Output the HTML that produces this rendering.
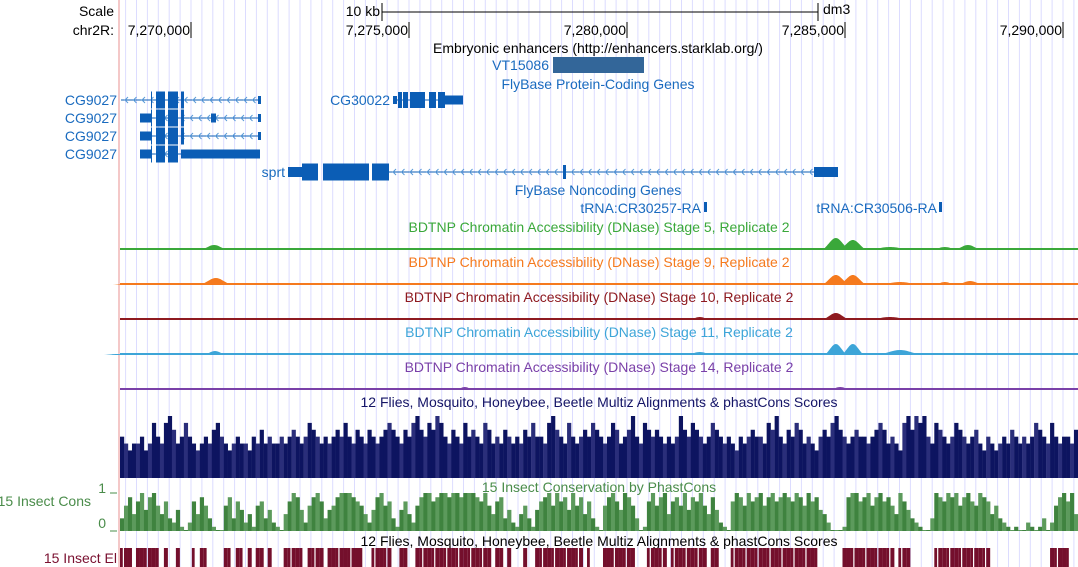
<!DOCTYPE html>
<html><head><meta charset="utf-8"><style>
html,body{margin:0;padding:0;background:#fff;}
svg{display:block;font-family:"Liberation Sans",sans-serif;}
</style></head><body>
<svg id="c" width="1078" height="567" viewBox="0 0 1078 567">
<g id="grid"></g>
<line x1="119" y1="0" x2="119" y2="567" stroke="#f4c8c8" stroke-width="2"/>
<g font-size="14" fill="#000">
<text x="114" y="16" text-anchor="end">Scale</text>
<text x="380" y="16" text-anchor="end">10 kb</text>
<line x1="382" y1="12" x2="818" y2="12" stroke="#000"/>
<line x1="382" y1="3" x2="382" y2="21" stroke="#000"/>
<line x1="818" y1="3" x2="818" y2="21" stroke="#000"/>
<text x="823" y="14">dm3</text>
<text x="114" y="35" text-anchor="end">chr2R:</text>
<g id="ticks"></g>
<text x="598" y="53" text-anchor="middle">Embryonic enhancers (http://enhancers.starklab.org/)</text>
</g>
<g font-size="14" fill="#1a6bbf">
<text x="549" y="70" text-anchor="end">VT15086</text>
<rect x="553" y="57" width="91" height="16" fill="#336699"/>
<text x="598" y="89" text-anchor="middle">FlyBase Protein-Coding Genes</text>
<text x="117" y="105" text-anchor="end">CG9027</text>
<text x="117" y="123" text-anchor="end">CG9027</text>
<text x="117" y="141" text-anchor="end">CG9027</text>
<text x="117" y="159" text-anchor="end">CG9027</text>
<text x="390" y="105" text-anchor="end">CG30022</text>
<text x="285" y="177" text-anchor="end">sprt</text>
<text x="598" y="195" text-anchor="middle">FlyBase Noncoding Genes</text>
<text x="701" y="213" text-anchor="end">tRNA:CR30257-RA</text>
<text x="937" y="213" text-anchor="end">tRNA:CR30506-RA</text>
</g>
<g id="genes" fill="#0b5db5" stroke="none"></g>
<g font-size="14" text-anchor="middle">
<text x="599" y="232" fill="#3aa83a">BDTNP Chromatin Accessibility (DNase) Stage 5, Replicate 2</text>
<text x="599" y="267" fill="#f57a1e">BDTNP Chromatin Accessibility (DNase) Stage 9, Replicate 2</text>
<text x="599" y="302" fill="#8e1a20">BDTNP Chromatin Accessibility (DNase) Stage 10, Replicate 2</text>
<text x="599" y="337" fill="#3da5d8">BDTNP Chromatin Accessibility (DNase) Stage 11, Replicate 2</text>
<text x="599" y="372" fill="#7a40a8">BDTNP Chromatin Accessibility (DNase) Stage 14, Replicate 2</text>
<text x="599" y="407" fill="#141466">12 Flies, Mosquito, Honeybee, Beetle Multiz Alignments &amp; phastCons Scores</text>
<text x="599" y="492" fill="#4a8c4a">15 Insect Conservation by PhastCons</text>
<text x="599" y="546" fill="#000">12 Flies, Mosquito, Honeybee, Beetle Multiz Alignments &amp; phastCons Scores</text>
</g>
<g font-size="14" fill="#4a8c4a">
<text x="91" y="506" text-anchor="end">15 Insect Cons</text>
<text x="106" y="493" text-anchor="end">1</text>
<text x="106" y="528" text-anchor="end">0</text>
<line x1="110" y1="493" x2="117" y2="493" stroke="#4a8c4a"/>
<line x1="110" y1="531" x2="117" y2="531" stroke="#4a8c4a"/>
</g>
<text x="117" y="563" font-size="14" fill="#7a1030" text-anchor="end">15 Insect El</text>
<g id="tracks"></g>
</svg>
<script>
const tickLabels = ["7,270,000","7,275,000","7,280,000","7,285,000","7,290,000"];
const tickPositions = [7270000,7275000,7280000,7285000,7290000];
// DNase peaks: centre (kb from 7,270,000), height (px), half width (kb)
const s5Centers=[-0.7,0.53,4.2,8.5,11.2,14.79,15.18,16.03,17.29,17.82];
const s5Heights=[1,5,1,1,2,12,10,3,3,5];
const s5Widths=[0.15,0.3,0.15,0.15,0.3,0.3,0.3,0.5,0.3,0.3];
const s9Centers=[-1.5,-0.44,0.57,1.0,10.6,14.79,15.18,16.26,17.29,17.87];
const s9Heights=[1,2,7,2,2,10,10,3,3,4];
const s9Widths=[0.3,0.3,0.35,0.15,0.3,0.3,0.3,0.5,0.25,0.3];
const s10Centers=[-1.12,0.3,4.3,6.4,10.34,11.67,14.79,16.03,17.29,17.9];
const s10Heights=[2,1,2,1,2,3,7,3,2,2];
const s10Widths=[0.15,0.15,0.3,0.15,0.15,0.25,0.3,0.5,0.2,0.2];
const s11Centers=[-1.7,0.55,5.8,10.4,11.67,14.79,15.18,16.26,17.41,18.2];
const s11Heights=[1,4,2,2,3,11,11,5,2,2];
const s11Widths=[0.3,0.25,0.3,0.15,0.3,0.25,0.25,0.5,0.3,0.25];
const s14Centers=[0.3,2.2,6.28,7.43,10.4,11.67,14.89,15.34,17.64];
const s14Heights=[1,1,3,2,1,2,3,2,2];
const s14Widths=[0.15,0.2,0.2,0.3,0.15,0.25,0.25,0.35,0.2];
// Multiz scores per bin (0-9), 240 bins across the view
const multizValues=[6,5,4,5,5,6,4,5,8,6,5,8,9,7,5,6,8,6,5,4,5,6,5,7,8,6,5,4,5,6,5,5,4,6,5,7,5,6,5,5,6,5,6,7,6,5,6,8,7,6,5,6,5,6,7,6,8,6,5,7,6,5,7,6,5,6,7,8,7,6,5,7,6,8,9,7,6,8,7,9,8,6,5,7,6,5,8,6,7,6,5,8,7,5,6,5,7,6,5,6,5,7,6,8,6,6,5,8,9,7,6,5,8,6,5,6,7,6,8,7,6,5,6,8,7,5,6,7,9,6,5,8,7,6,7,6,5,6,5,6,9,7,6,8,7,6,5,6,8,7,6,5,6,5,4,6,5,6,7,6,6,5,8,7,9,6,5,7,6,8,7,5,6,5,4,6,7,6,8,9,7,6,5,6,7,6,6,5,6,7,8,7,5,6,5,4,8,9,7,9,8,9,6,5,8,7,6,5,6,8,7,6,5,6,7,5,4,6,5,4,5,6,5,7,6,5,6,5,6,8,7,6,5,8,6,5,6,6,5,7];
// PhastCons per bin (0-9)
const consValues=[3,6,8,4,7,9,5,8,9,6,4,7,3,2,5,1,0,2,7,4,8,6,3,1,0,0,6,8,3,7,5,2,4,1,6,7,3,5,2,1,0,4,7,9,8,5,2,6,8,9,7,3,5,6,8,9,9,9,8,7,6,4,2,5,8,9,6,7,3,1,5,7,4,2,6,8,9,9,7,8,9,9,8,9,9,8,9,9,9,8,7,9,6,4,7,8,3,5,2,1,4,6,3,1,5,7,8,9,6,9,7,8,5,9,6,8,4,7,3,1,0,6,8,9,7,5,9,8,6,3,0,1,7,9,6,8,9,4,7,8,6,9,5,8,7,9,6,4,8,5,2,1,0,7,9,8,6,9,7,8,9,6,8,9,7,8,9,8,7,9,8,6,9,7,8,5,4,2,0,0,0,1,8,9,9,7,8,9,6,8,9,7,8,6,4,9,7,5,3,2,1,0,0,3,9,8,7,9,8,9,6,8,9,7,6,9,8,7,4,6,3,2,1,0,1,0,0,2,1,0,1,3,0,2,6,8,9,7,9,4];
// Conserved elements presence per bin (0/1)
const elemValues=[1,1,1,0,1,1,1,1,1,1,0,1,0,0,1,0,0,0,1,0,1,1,0,0,0,0,1,1,0,1,1,0,1,0,1,1,0,1,0,0,0,1,1,1,1,1,0,1,1,1,1,0,1,1,1,1,1,1,1,1,1,0,0,1,1,1,1,1,0,0,1,1,0,0,1,1,1,1,1,1,1,1,1,1,1,1,1,1,1,1,1,1,1,0,1,1,0,1,0,0,0,1,0,0,1,1,1,1,1,1,1,1,1,1,1,1,0,1,0,0,0,1,1,1,1,1,1,1,1,0,0,0,1,1,1,1,1,0,1,1,1,1,1,1,1,1,1,0,1,1,0,0,0,1,1,1,1,1,1,1,1,1,1,1,1,1,1,1,1,1,1,1,1,1,1,0,0,0,0,0,0,1,1,1,1,1,1,1,1,1,1,1,1,1,0,1,1,1,0,0,0,0,0,0,1,1,1,1,1,1,1,1,1,1,1,1,1,1,0,0,0,0,0,0,0,0,0,0,0,0,0,0,0,1,1,1,1,1,0];

const NS="http://www.w3.org/2000/svg";
const X0=119, X1=1077;
function xPos(p){return 191+(p-7270000)*0.0436;}
function xKb(kb){return xPos(7270000+kb*1000);}
function el(tag,attrs,parent){const e=document.createElementNS(NS,tag);for(const k in attrs)e.setAttribute(k,attrs[k]);parent.appendChild(e);return e;}

const grid=document.getElementById('grid');
for(let p=7268250;xPos(p)<=X1;p+=250){const x=xPos(p);if(x<X0)continue;
  const l=el('line',{x1:x,y1:0,x2:x,y2:567,stroke:'#dcdcff','stroke-width':1},grid);
  
  }

const ticks=document.getElementById('ticks');
tickPositions.forEach((p,i)=>{const x=xPos(p);
  const t=el('text',{x:x-1,y:35,'text-anchor':'end'},ticks);t.textContent=tickLabels[i];
  
  
  el('line',{x1:x,y1:22,x2:x,y2:38,stroke:'#000'},ticks);});

// genes
const g=document.getElementById('genes');
function line(x1,x2,y){el('line',{x1:x1,y1:y,x2:x2,y2:y,stroke:'#0b5db5','stroke-width':1},g);
  for(let x=x1+4;x<x2-3;x+=8.5){el('polyline',{points:`${x+3},${y-3} ${x},${y} ${x+3},${y+3}`,fill:'none',stroke:'#5a9ad8','stroke-width':1},g);}}
function box(x1,x2,y,h){el('rect',{x:x1,y:y-h/2,width:x2-x1,height:h},g);}
line(121,261,100);box(156,165,100,17);box(168,178,100,17);box(181,184,100,17);box(258,261,100,8);box(151,152,100,17);
line(152,261,118);box(140,152,118,9);box(156,165,118,17);box(168,178,118,17);box(181,184,118,17);box(211,216,118,9);box(258,261,118,8);box(151,152,118,17);
line(152,261,136);box(140,152,136,9);box(156,165,136,17);box(168,178,136,17);box(181,184,136,17);box(258,261,136,8);box(151,152,136,17);
line(152,184,154);box(140,152,154,9);box(156,165,154,17);box(168,178,154,17);box(181,260,154,9);box(151,152,154,17);
[[393,397,8],[398,402,16],[403,408,16],[410,425,16],[429,436,16],[438,445,16],[445,463,9]].forEach(b=>box(b[0],b[1],100,b[2]));
el('line',{x1:393,y1:100,x2:463,y2:100,stroke:'#0b5db5'},g);
line(389,815,172);box(288,302,172,10);box(302,318,172,17);box(323,369,172,17);box(372,389,172,17);box(563,566,172,14);box(814,838,172,10);
box(704,707,207,10);box(939,942,207,10);

// tracks
const tracks=document.getElementById('tracks');
function dnase(name,centers,heights,widths,base,color){
  const grp=el('g',{},tracks);
  
  
  el('rect',{x:X0+1,y:base-2,width:X1-X0,height:2,fill:color},grp);
  centers.forEach((c,i)=>{const xc=xKb(c),hw=widths[i]*43.6,h=heights[i];
    const p=el('path',{d:`M${xc-hw},${base} C${xc-hw*0.5},${base-h*0.5} ${xc-hw*0.3},${base-h} ${xc},${base-h} C${xc+hw*0.3},${base-h} ${xc+hw*0.5},${base-h*0.5} ${xc+hw},${base} Z`,fill:color},grp);
    
    });
}
dnase('dnase-stage5-track',s5Centers,s5Heights,s5Widths,250,'#3aa83a');
dnase('dnase-stage9-track',s9Centers,s9Heights,s9Widths,285,'#f57a1e');
dnase('dnase-stage10-track',s10Centers,s10Heights,s10Widths,320,'#8e1a20');
dnase('dnase-stage11-track',s11Centers,s11Heights,s11Widths,355,'#3da5d8');
dnase('dnase-stage14-track',s14Centers,s14Heights,s14Widths,390,'#7a40a8');

const bw=(X1-X0)/240;
function binX(i){return X0+1+i*bw;}
const mz=el('g',{},tracks);


multizValues.forEach((v,i)=>{const h=v/9*62;
  const r=el('rect',{x:binX(i),y:478-h,width:bw+0.2,height:h,fill:(i%3==1)?'#2a2e7a':'#0d1460'},mz);
  
  });
const cs=el('g',{},tracks);


consValues.forEach((v,i)=>{const h=Math.max(1,v/9*38);
  const r=el('rect',{x:binX(i),y:531-h,width:bw+0.2,height:h,fill:(i%2)?'#5c9a5c':'#3f833f'},cs);
  
  });
const es=el('g',{},tracks);


elemValues.forEach((v,i)=>{if(!v)return;
  const r=el('rect',{x:binX(i),y:548,width:bw-(i%3==0?1.2:0),height:19,fill:'#740f2c'},es);
  
  });
</script>
</body></html>
